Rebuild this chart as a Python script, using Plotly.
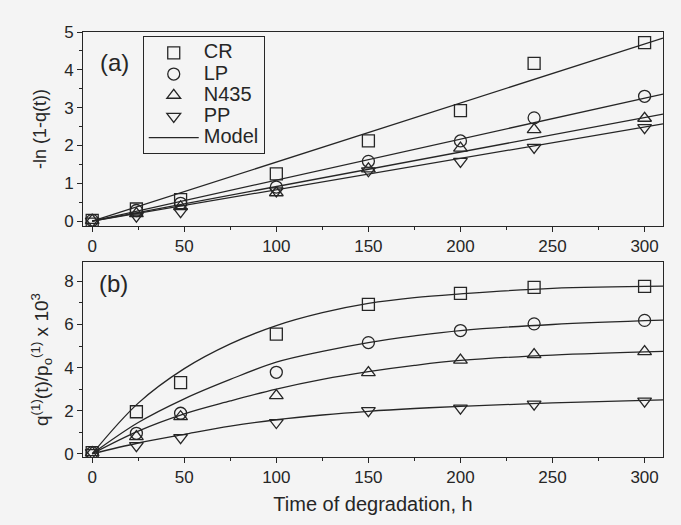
import plotly.graph_objects as go
from plotly.subplots import make_subplots

t_data = [0, 24, 48, 100, 150, 200, 240, 300]
series = ["CR", "LP", "N435", "PP"]
symbols = ["square-open", "circle-open", "triangle-up-open", "triangle-down-open"]

# (a) -ln(1-q(t))
a_CR = [0.02, 0.32, 0.57, 1.25, 2.12, 2.92, 4.17, 4.72]
a_LP = [0.02, 0.28, 0.47, 0.90, 1.58, 2.12, 2.73, 3.30]
a_N435 = [0.02, 0.20, 0.38, 0.75, 1.38, 1.93, 2.42, 2.72]
a_PP = [0.00, 0.13, 0.25, 0.80, 1.33, 1.58, 1.95, 2.47]

# (a) model lines (linear), read at endpoints
t_model_a = [0, 310]
ma_CR = [0, 4.84]
ma_LP = [0, 3.36]
ma_N435 = [0, 2.83]
ma_PP = [0, 2.57]

# (b) q(t)/p0 x 10^3
b_CR = [0.05, 1.95, 3.30, 5.55, 6.93, 7.44, 7.72, 7.77]
b_LP = [0.05, 0.95, 1.88, 3.78, 5.16, 5.72, 6.03, 6.19]
b_N435 = [0.05, 0.80, 1.72, 2.70, 3.77, 4.35, 4.60, 4.74]
b_PP = [0.05, 0.38, 0.75, 1.45, 2.00, 2.12, 2.30, 2.44]

# (b) model curves
t_model_b = [0, 25, 50, 75, 100, 125, 150, 175, 200, 250, 310]
mb_CR = [0, 2.35, 3.95, 5.10, 5.95, 6.55, 6.98, 7.25, 7.42, 7.68, 7.78]
mb_LP = [0, 1.45, 2.55, 3.45, 4.25, 4.75, 5.16, 5.47, 5.72, 6.00, 6.20]
mb_N435 = [0, 1.05, 1.85, 2.45, 3.00, 3.45, 3.81, 4.10, 4.33, 4.58, 4.75]
mb_PP = [0, 0.50, 0.90, 1.28, 1.58, 1.80, 1.97, 2.10, 2.20, 2.36, 2.50]

a_vals = [a_CR, a_LP, a_N435, a_PP]
ma_vals = [ma_CR, ma_LP, ma_N435, ma_PP]
b_vals = [b_CR, b_LP, b_N435, b_PP]
mb_vals = [mb_CR, mb_LP, mb_N435, mb_PP]

ink = "#262626"
bg = "#f4f4f4"
font = "Liberation Sans, Arial, sans-serif"


def big(s):
    return '<span style="font-size:20px">' + s + '</span>'


fig = make_subplots(rows=2, cols=1, shared_xaxes=False, vertical_spacing=0.08)

for name, sym, av, bv in zip(series, symbols, a_vals, b_vals):
    mk = dict(symbol=sym, size=12, color=ink, line=dict(width=1.3, color=ink))
    fig.add_trace(go.Scatter(x=t_data, y=av, mode="markers", name=big(name), marker=mk,
                             showlegend=True), row=1, col=1)
    fig.add_trace(go.Scatter(x=t_data, y=bv, mode="markers", name=name, marker=mk,
                             showlegend=False), row=2, col=1)

for i, (mav, mbv) in enumerate(zip(ma_vals, mb_vals)):
    fig.add_trace(go.Scatter(x=t_model_a, y=mav, mode="lines", name=big("Model"),
                             line=dict(color=ink, width=1.3), showlegend=(i == 0)),
                  row=1, col=1)
    fig.add_trace(go.Scatter(x=t_model_b, y=mbv, mode="lines", name="Model",
                             line=dict(color=ink, width=1.3, shape="spline"),
                             showlegend=False), row=2, col=1)

axis_common = dict(showline=True, linecolor=ink, linewidth=1, mirror=True,
                   ticks="outside", ticklen=5, tickwidth=1, tickcolor=ink,
                   showgrid=False, zeroline=False,
                   tickfont=dict(size=17, color=ink, family=font))

xt = dict(range=[-5, 310], tickvals=[0, 50, 100, 150, 200, 250, 300],
          minor=dict(dtick=25, tick0=0, ticks="outside", ticklen=3, tickcolor=ink))
fig.update_xaxes(**axis_common, **xt, row=1, col=1)
fig.update_xaxes(**axis_common, **xt, row=2, col=1,
                 title=dict(text="Time of degradation, h",
                            font=dict(size=20, color=ink, family=font), standoff=10))

fig.update_yaxes(**axis_common, range=[-0.13, 5], dtick=1, tick0=0,
                 minor=dict(dtick=0.5, tick0=0, ticks="outside", ticklen=3, tickcolor=ink),
                 title=dict(text="-ln (1-q(t))", font=dict(size=18, color=ink, family=font),
                            standoff=12),
                 domain=[0.5435, 1.0], row=1, col=1)
fig.update_yaxes(**axis_common, range=[-0.15, 8.9], dtick=2, tick0=0,
                 minor=dict(dtick=1, tick0=0, ticks="outside", ticklen=3, tickcolor=ink),
                 title=dict(text="q<sup>(1)</sup>(t)/p<sub>o</sub><sup>(1)</sup> x 10<sup>3</sup>",
                            font=dict(size=19, color=ink, family=font), standoff=10),
                 domain=[0.0, 0.4588], row=2, col=1)

fig.add_annotation(text="(a)", x=0.026, y=0.929, xref="paper", yref="paper",
                   xanchor="left", yanchor="middle", showarrow=False,
                   font=dict(size=24, color=ink, family=font))
fig.add_annotation(text="(b)", x=0.024, y=0.409, xref="paper", yref="paper",
                   xanchor="left", yanchor="middle", showarrow=False,
                   font=dict(size=24, color=ink, family=font))

fig.update_layout(
    width=681, height=525,
    margin=dict(l=83, r=18, t=32, b=68),
    paper_bgcolor=bg, plot_bgcolor=bg,
    font=dict(family=font, color=ink),
    legend=dict(x=0.103, y=0.99, xanchor="left", yanchor="top",
                bgcolor="rgba(0,0,0,0)", bordercolor=ink, borderwidth=1,
                font=dict(size=14, color=ink, family=font),
                tracegroupgap=0, itemwidth=50),
)

fig.write_html("out.html")
